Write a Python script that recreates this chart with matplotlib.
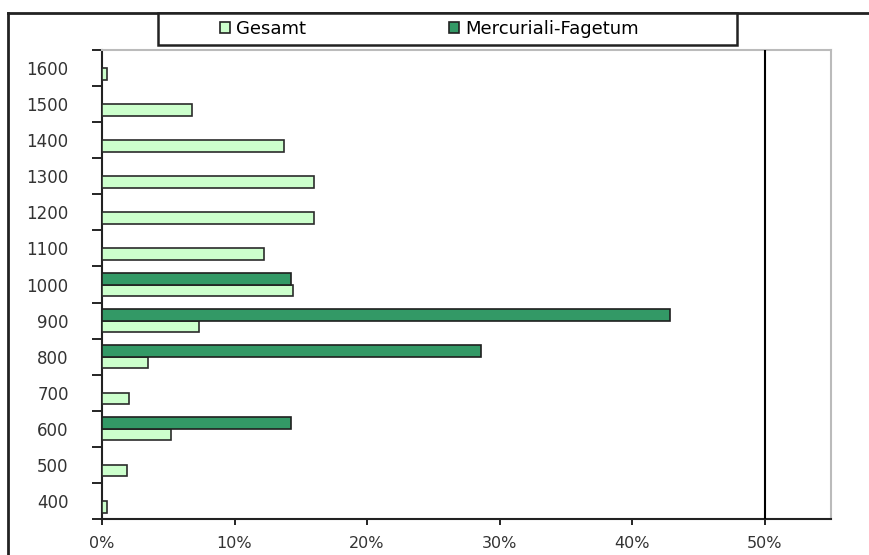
import matplotlib
matplotlib.use("Agg")
import matplotlib.pyplot as plt
from matplotlib.patches import Rectangle, Patch
from matplotlib.lines import Line2D
import numpy as np

categories = ["400", "500", "600", "700", "800", "900", "1000", "1100", "1200", "1300", "1400", "1500", "1600"]
gesamt = [0.4, 1.9, 5.2, 2.0, 3.5, 7.3, 14.4, 12.2, 16.0, 16.0, 13.7, 6.8, 0.4]
mercuriali = [0, 0, 14.29, 0, 28.57, 42.86, 14.29, 0, 0, 0, 0, 0, 0]
xticks = [0, 10, 20, 30, 40, 50]
xtick_labels = ["0%", "10%", "20%", "30%", "40%", "50%"]

W, H = 869, 555
fig = plt.figure(figsize=(W / 100, H / 100), dpi=100)
plt.rcParams['font.family'] = ['DejaVu Sans']

ax = fig.add_axes([102 / W, 1 - 519 / H, (831 - 102) / W, (519 - 50) / H])

y = np.arange(len(categories))
bh = 0.32
light = "#ccffcc"
dark = "#339966"
ax.barh(y - bh / 2, gesamt, height=bh, color=light, edgecolor="#2b2b2b", linewidth=1.2, zorder=3)
merc_y = [yy for yy, v in zip(y, mercuriali) if v > 0]
merc_v = [v for v in mercuriali if v > 0]
ax.barh(np.array(merc_y) + bh / 2, merc_v, height=bh, color=dark, edgecolor="#1f1f1f", linewidth=1.2, zorder=3)

ax.set_xlim(0, 55)
ax.set_ylim(-0.5, len(categories) - 0.5)

ax.set_xticks(xticks)
ax.set_xticklabels(xtick_labels, fontsize=11.5, color="#333333")
ax.tick_params(axis="x", direction="out", length=4, width=1.2, pad=8)

ax.set_yticks(np.arange(-0.5, len(categories), 1.0))
ax.set_yticklabels([])
ax.set_yticks(y, minor=True)
ax.set_yticklabels(categories, minor=True, fontsize=12, color="#333333")
ax.tick_params(axis="y", which="major", direction="out", length=7, width=1.2)
ax.tick_params(axis="y", which="minor", length=0, pad=24)

ax.axvline(50, color="black", linewidth=1.5, zorder=4)

for s in ["top", "right"]:
    ax.spines[s].set_color("#bbbbbb")
    ax.spines[s].set_linewidth(1.5)
for s in ["left", "bottom"]:
    ax.spines[s].set_color("#222222")
    ax.spines[s].set_linewidth(1.5)

# outer chart border (top and left)
fig.add_artist(Line2D([8 / W, 1.0], [1 - 13 / H, 1 - 13 / H], transform=fig.transFigure, color="#222222", linewidth=2))
fig.add_artist(Line2D([8 / W, 8 / W], [0, 1 - 13 / H], transform=fig.transFigure, color="#222222", linewidth=2))

# legend box
fig.add_artist(Rectangle((158 / W, 1 - 45 / H), (737 - 158) / W, 32 / H, transform=fig.transFigure,
                         facecolor="white", edgecolor="#222222", linewidth=1.8, zorder=5))
handles = [Patch(facecolor=light, edgecolor="#222222", linewidth=1.2, label="Gesamt"),
           Patch(facecolor=dark, edgecolor="#222222", linewidth=1.2, label="Mercuriali-Fagetum")]
leg = fig.legend(handles=handles, loc="center left", bbox_to_anchor=(220 / W, 1 - 29 / H), ncol=2, frameon=False,
                 borderpad=0, borderaxespad=0,
                 fontsize=13, handlelength=0.55, handleheight=0.55, handletextpad=0.35, columnspacing=7.9)
leg.set_zorder(6)

fig.savefig("out.png", dpi=100)
